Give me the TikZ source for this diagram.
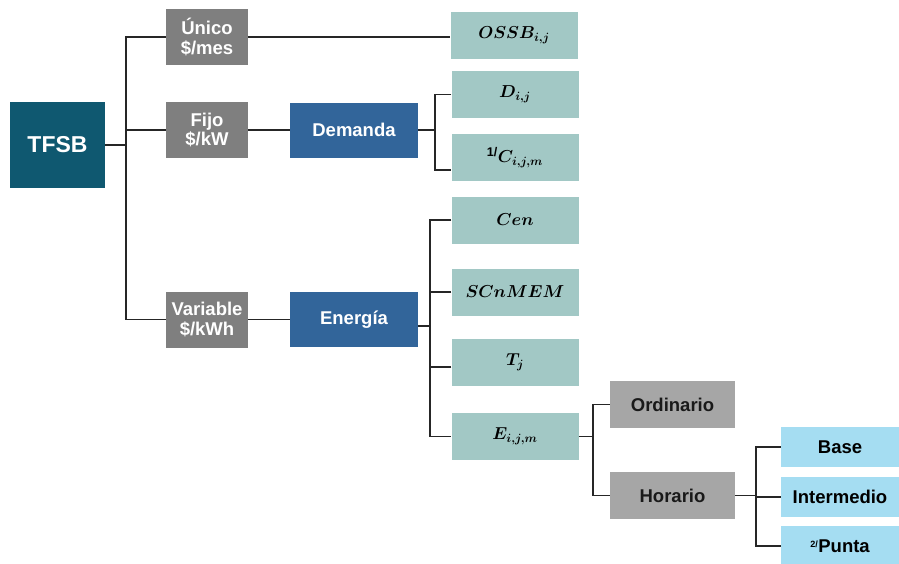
\documentclass[tikz,border=0pt]{standalone}
\usepackage{fontspec}
\setmainfont{Liberation Sans}
\usepackage{bm}
\usepackage{xcolor}
\usetikzlibrary{positioning,calc}

\definecolor{tfsbcol}{HTML}{0F5870}
\definecolor{grycol}{HTML}{7F7F7F}
\definecolor{bluecol}{HTML}{32659A}
\definecolor{tealcol}{HTML}{A2C8C5}
\definecolor{lgrycol}{HTML}{A6A6A6}
\definecolor{skycol}{HTML}{A5DDF2}

\begin{document}
\begin{tikzpicture}[
   x=1pt,y=-1pt,
   every node/.style={font=\fontsize{18.5}{19.5}\selectfont\bfseries,inner sep=0pt,align=center},
   root/.style={fill=tfsbcol,text=white,minimum width=95pt,minimum height=86pt,
                font=\fontsize{23}{25}\selectfont\bfseries},
   cargo/.style={fill=grycol,text=white,minimum width=82pt,minimum height=56pt},
   conc/.style={fill=bluecol,text=white,minimum width=128pt,minimum height=55pt},
   term/.style={fill=tealcol,minimum width=127pt,minimum height=47pt,
                font=\fontsize{18}{20}\selectfont\bfseries},
   esq/.style={fill=lgrycol,text=black!90,minimum width=125pt,minimum height=47pt},
   hor/.style={fill=skycol,minimum width=118pt,minimum height=40pt},
   ln/.style={line width=1.3pt,black!85}
]
\useasboundingbox (0,0) rectangle (899,563);

% Root and charges
\node[root] (T) at (57.5,145) {TFSB};
\node[cargo] (Uni) at (207,37) {Único\\\$/mes};
\node[cargo] (Fij) at (207,130) {Fijo\\\$/kW};
\node[cargo] (Var) at (207,319.5) {Variable\\\$/kWh};
\coordinate (s0) at (126,145);
\draw[ln] (T.east) -- (s0);
\draw[ln] (Uni.west) -| (s0) |- (Var.west);
\draw[ln] (Fij.west) -- (Fij.west -| s0);

% Unico
\node[term] (OSSB) at (514,35) {$\bm{OSSB_{i,j}}$};
\draw[ln] (Uni.east) -- (Uni.east -| OSSB.west);

% Demanda
\node[conc] (Dem) at (354,130) {Demanda};
\draw[ln] (Fij.east) -- (Dem.west);
\node[term] (D) at (515,94.5) {$\bm{D_{i,j}}$};
\node[term] (C) at (515,157.5) {\textsuperscript{1/}$\bm{C_{i,j,m}}$};
\coordinate (s1) at (435,130);
\draw[ln] (Dem.east) -- (s1);
\draw[ln] (D.west) -| (s1) |- ([yshift=-12.5pt]C.west);

% Energia
\node[conc] (Ene) at (354,319.5) {Energía};
\draw[ln] (Var.east) -- (Ene.west);
\node[term] (Cen) at (515,220) {$\bm{Cen}$};
\node[term] (SCn) at (515,292) {$\bm{SCnMEM}$};
\node[term] (Tj) at (515,362.5) {$\bm{T_j}$};
\node[term] (E) at (515,436.5) {$\bm{E_{i,j,m}}$};
\coordinate (s2) at (430,326);
\draw[ln] ([yshift=-6.5pt]Ene.east) -- (s2);
\draw[ln] (Cen.west) -| (s2) |- (E.west);
\draw[ln] (SCn.west) -- (SCn.west -| s2);
\draw[ln] ([yshift=-4.5pt]Tj.west) -- ([yshift=-4.5pt]Tj.west -| s2);

% Esquema
\node[esq] (Ord) at (672.5,404.5) {Ordinario};
\node[esq] (Hor) at (672.5,495.5) {Horario};
\coordinate (s3) at (593,436.5);
\draw[ln] (E.east) -- (s3);
\draw[ln] (Ord.west) -| (s3) |- (Hor.west);

% Horario
\node[hor] (Bas) at (840,447) {Base};
\node[hor] (Int) at (840,497) {Intermedio};
\node[hor] (Pun) at (840,546) {{\fontsize{13}{14}\selectfont\textsuperscript{2/}}Punta};
\coordinate (s4) at (756,495.5);
\draw[ln] (Hor.east) -- (s4);
\draw[ln] (Bas.west) -| (s4) |- (Pun.west);
\draw[ln] (Int.west) -- (Int.west -| s4);

\end{tikzpicture}
\end{document}
